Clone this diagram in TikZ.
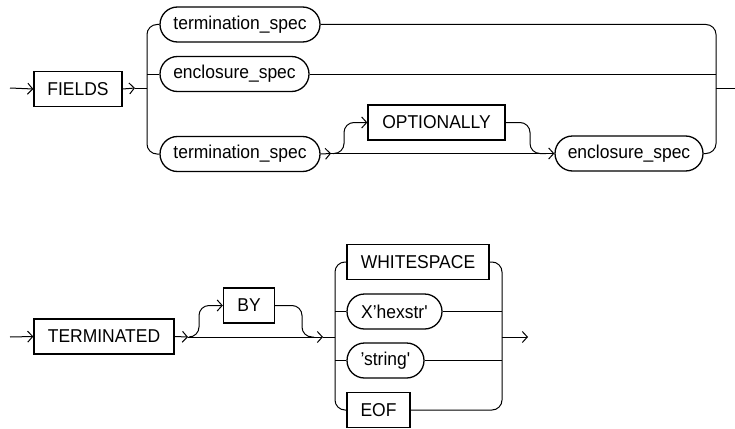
\documentclass[tikz,border=0pt]{standalone}
\usepackage{fontspec}
\setmainfont[FakeStretch=0.94]{Liberation Sans}
\usetikzlibrary{arrows.meta,shapes.misc}
\begin{document}
\begin{tikzpicture}[x=1pt,y=-1pt,line width=1pt,
  lbl/.style={font=\fontsize{18.6}{21}\selectfont},
  kw/.style={lbl,draw,rectangle,minimum height=35pt,inner sep=0pt,line width=1.3pt},
  nt/.style={lbl,draw,rounded rectangle,minimum height=35pt,inner sep=0pt,line width=1.3pt},
  rc/.style={rounded corners=10pt},
  arr/.style={-{Straight Barb[length=5pt,width=11pt]}}]
\useasboundingbox (0,0) rectangle (735,428);
% ---------- top diagram ----------
\coordinate (s1) at (10,88);
\node[kw,minimum width=88pt] (fields) at (78,89) {FIELDS};
\node[nt,minimum width=160pt] (term1) at (240,24.5) {termination\_spec};
\node[nt,minimum width=149pt] (enc1) at (234.5,74) {enclosure\_spec};
\node[nt,minimum width=160pt] (term2) at (240,154) {termination\_spec};
\node[kw,minimum width=137pt] (opt) at (436.5,122.5) {OPTIONALLY};
\node[nt,minimum width=148pt] (enc2) at (629,153.5) {enclosure\_spec};
\coordinate (a1) at (135,88);
\coordinate (bl) at (147,88);
\coordinate (br) at (716,88);
\coordinate (e1) at (735,88);
\coordinate (a2) at (331,153.5);
\coordinate (o1) at (333,153.5);
\coordinate (o2) at (344,153.5);
\coordinate (o3) at (530,122.5);
\coordinate (o4) at (546,153.5);
\draw[arr] (s1) -- (fields.west);
\draw[arr] (fields.east) -- (a1);
\draw (a1) -- (bl);
\draw[rc] (bl) |- (term1.west);
\draw (bl |- enc1.west) -- (enc1.west);
\draw[rc] (bl) |- (term2.west);
\draw[rc] (term1.east) -| (br);
\draw (enc1.east) -- (br |- enc1.east);
\draw[rc] (enc2.east) -| (br);
\draw (br) -- (e1);
\draw[arr] (term2.east) -- (a2);
\draw[arr] (a2) -- (enc2.west);
\draw[rc,arr] (o1) -- (o2) |- (opt.west);
\draw[rc] (opt.east) -- (o3) |- (o4);
% ---------- bottom diagram ----------
\coordinate (s2) at (10,337);
\node[kw,minimum width=140pt] (term) at (104,336.5) {TERMINATED};
\node[kw,minimum width=51pt] (by) at (249,305.5) {BY};
\node[kw,minimum width=142pt] (ws) at (418,262) {WHITESPACE};
\node[nt,minimum width=95pt] (hex) at (394.5,311.5) {X’hexstr\textquotesingle};
\node[nt,minimum width=77pt] (str) at (385.5,360.5) {’string\textquotesingle};
\node[kw,minimum width=63pt] (eof) at (378.5,410) {EOF};
\coordinate (a3) at (188,337);
\coordinate (b1) at (190,337);
\coordinate (b2) at (199,337);
\coordinate (b3) at (302,305.5);
\coordinate (b4) at (314,337);
\coordinate (a4) at (323,337);
\coordinate (cl) at (335,337);
\coordinate (cr) at (502,337);
\coordinate (e2) at (528,337);
\draw[arr] (s2) -- (term.west);
\draw[arr] (term.east) -- (a3);
\draw[arr] (a3) -- (a4);
\draw (a4) -- (cl);
\draw[rc,arr] (b1) -- (b2) |- (by.west);
\draw[rc] (by.east) -- (b3) |- (b4);
\draw[rc] (cl) |- (ws.west);
\draw (cl |- hex.west) -- (hex.west);
\draw (cl |- str.west) -- (str.west);
\draw[rc] (cl) |- (eof.west);
\draw[rc] (ws.east) -| (cr);
\draw (hex.east) -- (cr |- hex.east);
\draw (str.east) -- (cr |- str.east);
\draw[rc] (eof.east) -| (cr);
\draw[arr] (cr) -- (e2);
\end{tikzpicture}
\end{document}
